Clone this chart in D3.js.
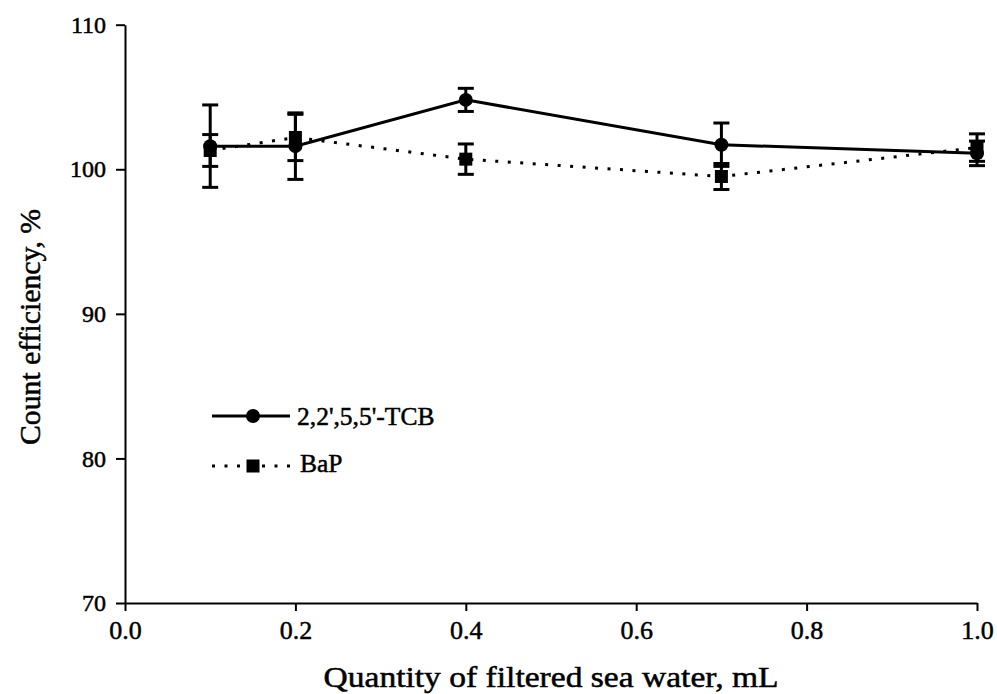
<!DOCTYPE html>
<html>
<head>
<meta charset="utf-8">
<script src="https://cdn.jsdelivr.net/npm/d3@7"></script>
<style>
  html, body { margin: 0; padding: 0; background: #fff; }
  svg { display: block; }
  text { font-family: "Liberation Serif", "Times New Roman", serif; fill: #000; stroke: #000; stroke-width: 0.5px; }
</style>
</head>
<body>
<svg id="chart" width="997" height="694"></svg>
<script>
// ---- data ----
const xValues = [0.1, 0.2, 0.4, 0.7, 1.0];
const tcbValues = [101.6, 101.6, 104.8, 101.7, 101.1];
const tcbErrors = [2.85, 2.3, 0.8, 1.5, 0.85];
const bapValues = [101.3, 102.2, 100.7, 99.5, 101.5];
const bapErrors = [1.1, 1.6, 1.05, 0.9, 0.95];
const xTicks = [0.0, 0.2, 0.4, 0.6, 0.8, 1.0];
const yTicks = [70, 80, 90, 100, 110];
const seriesNames = ["2,2',5,5'-TCB", "BaP"];
const xTitle = "Quantity of filtered sea water, mL";
const yTitle = "Count efficiency, %";

const svg = d3.select("#chart");
const x = d3.scaleLinear().domain([0, 1]).range([125, 977]);
const y = d3.scaleLinear().domain([70, 110]).range([603, 24.7]);

// axes
const xAxis = d3.axisBottom(x).tickValues(xTicks).tickFormat(d3.format(".1f")).tickSize(8).tickSizeOuter(0).tickPadding(10);
const yAxis = d3.axisLeft(y).tickValues(yTicks).tickFormat(d3.format("d")).tickSize(9).tickSizeOuter(0).tickPadding(10);

const gx = svg.append("g").attr("transform", `translate(0,${y(70)})`).call(xAxis);
const gy = svg.append("g").attr("transform", `translate(${x(0)},0)`).call(yAxis);
[gx, gy].forEach(g => {
  g.attr("font-family", "Liberation Serif");
  g.select(".domain").attr("stroke", "#000").attr("stroke-width", 2);
  g.selectAll(".tick line").attr("stroke", "#000").attr("stroke-width", 2);
  g.selectAll(".tick text").attr("fill", "#000");
});
gx.attr("font-size", 26);
gy.attr("font-size", 24);

// axis titles
svg.append("text").attr("x", 551).attr("y", 687).attr("text-anchor", "middle")
  .attr("font-size", 29).attr("textLength", 455).attr("lengthAdjust", "spacingAndGlyphs").text(xTitle);
svg.append("text").attr("transform", `translate(40,327) rotate(-90)`).attr("text-anchor", "middle")
  .attr("font-size", 29).attr("textLength", 236).attr("lengthAdjust", "spacingAndGlyphs").text(yTitle);

const tcb = xValues.map((d, i) => ({ x: d, y: tcbValues[i], e: tcbErrors[i] }));
const bap = xValues.map((d, i) => ({ x: d, y: bapValues[i], e: bapErrors[i] }));

function errorBars(data) {
  const g = svg.append("g").attr("stroke", "#000").attr("stroke-width", 3);
  data.forEach(d => {
    const cx = x(d.x);
    g.append("line").attr("x1", cx).attr("x2", cx).attr("y1", y(d.y - d.e)).attr("y2", y(d.y + d.e));
    g.append("line").attr("x1", cx - 8).attr("x2", cx + 8).attr("y1", y(d.y - d.e)).attr("y2", y(d.y - d.e));
    g.append("line").attr("x1", cx - 8).attr("x2", cx + 8).attr("y1", y(d.y + d.e)).attr("y2", y(d.y + d.e));
  });
}
errorBars(tcb);
errorBars(bap);

const line = d3.line().x(d => x(d.x)).y(d => y(d.y));
svg.append("path").datum(bap).attr("d", line).attr("fill", "none").attr("stroke", "#000")
  .attr("stroke-width", 3).attr("stroke-dasharray", "3,9.5");
svg.append("path").datum(tcb).attr("d", line).attr("fill", "none").attr("stroke", "#000")
  .attr("stroke-width", 3);

svg.append("g").selectAll("rect").data(bap).join("rect")
  .attr("x", d => x(d.x) - 6.5).attr("y", d => y(d.y) - 6.5).attr("width", 13).attr("height", 13).attr("fill", "#000");
svg.append("g").selectAll("circle").data(tcb).join("circle")
  .attr("cx", d => x(d.x)).attr("cy", d => y(d.y)).attr("r", 7).attr("fill", "#000");

// legend
const lg = svg.append("g");
lg.append("line").attr("x1", 212).attr("x2", 290).attr("y1", 416).attr("y2", 416).attr("stroke", "#000").attr("stroke-width", 3);
lg.append("circle").attr("cx", 253).attr("cy", 416).attr("r", 7).attr("fill", "#000");
lg.append("text").attr("x", 297).attr("y", 425).attr("font-size", 25.5).text(seriesNames[0]);
lg.append("line").attr("x1", 212).attr("x2", 290).attr("y1", 466).attr("y2", 466).attr("stroke", "#000").attr("stroke-width", 3).attr("stroke-dasharray", "3,9.5");
lg.append("rect").attr("x", 246.5).attr("y", 459.5).attr("width", 13).attr("height", 13).attr("fill", "#000");
lg.append("text").attr("x", 300).attr("y", 472).attr("font-size", 25.5).text(seriesNames[1]);
</script>
</body>
</html>
